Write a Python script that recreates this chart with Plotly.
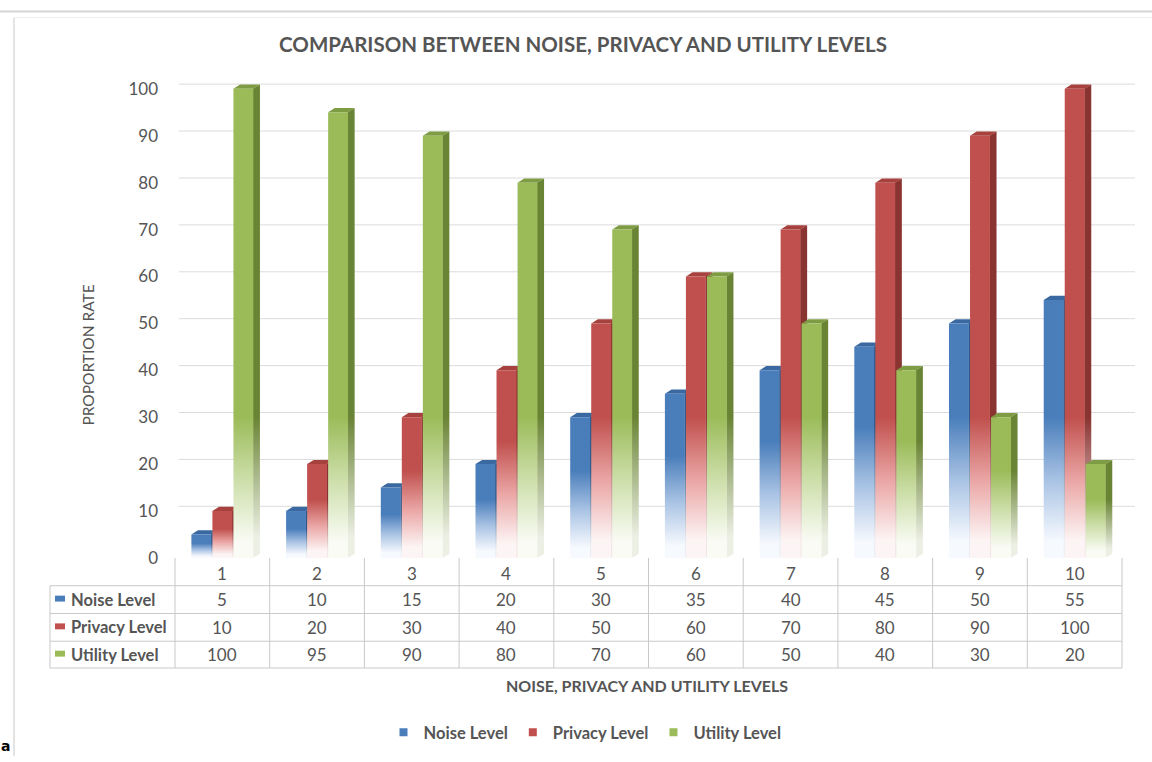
import plotly.graph_objects as go

# ---- data -------------------------------------------------------------
categories = [1, 2, 3, 4, 5, 6, 7, 8, 9, 10]
noise_level = [5, 10, 15, 20, 30, 35, 40, 45, 50, 55]
privacy_level = [10, 20, 30, 40, 50, 60, 70, 80, 90, 100]
utility_level = [100, 95, 90, 80, 70, 60, 50, 40, 30, 20]
series_names = ["Noise Level", "Privacy Level", "Utility Level"]
y_ticks = [0, 10, 20, 30, 40, 50, 60, 70, 80, 90, 100]

series_values = [noise_level, privacy_level, utility_level]

# ---- styling ------------------------------------------------------------
FONT = "Lato"
TEXT = "#555555"
GRID = "#dcdcdc"
TABLE_LINE = "#c9c9c9"

styles = [
    dict(front="#4A7EBB", side="#2E5786", top="#3A68A0", pale_f="#F6F9FE", mid_f="#A9C3E4",
         pale_s="#E9EDF3"),
    dict(front="#C0504D", side="#8A3431", top="#A6413E", pale_f="#FDF5F5", mid_f="#EAA6A5",
         pale_s="#F2E6E6"),
    dict(front="#9BBB59", side="#6A8435", top="#7E9C44", pale_f="#F9FBF4", mid_f="#CDDFAA",
         pale_s="#ECEFE4"),
]

# ---- geometry -----------------------------------------------------------
W, H = 1152, 762
ML, MR, MT, MB = 175, 17, 70, 86
PLOT_W = W - ML - MR
PLOT_H = H - MT - MB
X_RANGE = [0.5, 10.637]
PX_PER_Y = 4.73          # pixels per value unit on the vertical axis
Y0_PX = 562              # pixel row of value 0
Y_RANGE = [-(H - MB - Y0_PX) / PX_PER_Y, (Y0_PX - MT) / PX_PER_Y]

BAR_W = 0.21             # front face width (category units)
BAR_STEP = 0.222         # spacing between series inside a category
DEPTH_X = 0.07           # oblique depth of each column
DEPTH_Y = 0.9
GRID_LIFT = 1.0          # back wall sits slightly above the front plane
FADE_TOP = 30            # the white fade reaches at most this high


def xp(v):
    """data x -> paper x"""
    return (v - X_RANGE[0]) / (X_RANGE[1] - X_RANGE[0])


def px_x(px):
    return (px - ML) / PLOT_W


def px_y(py):
    return (H - MB - py) / PLOT_H


def front_scale(st, v):
    solid = min(0.62 * v, FADE_TOP) / v
    return [[0, st["pale_f"]], [solid * 0.12, st["pale_f"]],
            [solid * 0.55, st["mid_f"]], [solid, st["front"]], [1, st["front"]]]


def side_scale(st, v):
    solid = min(0.62 * v, FADE_TOP) / (v + DEPTH_Y)
    return [[0, st["pale_s"]], [solid * 0.15, st["pale_s"]],
            [solid, st["side"]], [1, st["side"]]]


fig = go.Figure()

# ---- 3-D style columns ----------------------------------------------------
for ci, cat in enumerate(categories):
    for si, (name, vals) in enumerate(zip(series_names, series_values)):
        v = vals[ci]
        st = styles[si]
        x0 = cat + (si - 1) * BAR_STEP - BAR_W / 2
        x1 = x0 + BAR_W
        # side face
        fig.add_trace(go.Scatter(
            x=[x1 - 0.004, x1 + DEPTH_X, x1 + DEPTH_X, x1 - 0.004, x1 - 0.004],
            y=[0, DEPTH_Y, v + DEPTH_Y, v, 0],
            mode="lines", fill="toself", line=dict(width=0),
            fillgradient=dict(type="vertical", start=0, stop=v + DEPTH_Y,
                              colorscale=side_scale(st, v)),
            hoverinfo="skip", showlegend=False))
        # top face
        fig.add_trace(go.Scatter(
            x=[x0, x1, x1 + DEPTH_X, x0 + DEPTH_X, x0],
            y=[v, v, v + DEPTH_Y, v + DEPTH_Y, v],
            mode="lines", fill="toself", line=dict(width=0),
            fillcolor=st["top"], hoverinfo="skip", showlegend=False))
        # front face
        fig.add_trace(go.Scatter(
            x=[x0, x1, x1, x0, x0],
            y=[0, 0, v, v, 0],
            mode="lines", fill="toself", line=dict(width=0),
            fillgradient=dict(type="vertical", start=0, stop=v,
                              colorscale=front_scale(st, v)),
            name=name, hovertemplate=f"{name}: {v}<extra></extra>",
            showlegend=False))

# legend entries
for name, st in zip(series_names, styles):
    fig.add_trace(go.Scatter(
        x=[None], y=[None], mode="markers", name=name,
        marker=dict(symbol="square", size=8, color=st["front"])))

shapes = []

# back-wall gridlines
for t in y_ticks[1:]:
    shapes.append(dict(type="line", xref="paper", yref="y", x0=0.004, x1=1,
                       y0=t + GRID_LIFT, y1=t + GRID_LIFT,
                       line=dict(color=GRID, width=1), layer="below"))

# ---- data table -----------------------------------------------------------
ROW_LINES_PX = [590, 618, 646, 673]
LABEL_LEFT_PX = 50
for py in ROW_LINES_PX:
    shapes.append(dict(type="line", xref="paper", yref="paper",
                       x0=px_x(LABEL_LEFT_PX), x1=xp(10.5), y0=px_y(py), y1=px_y(py),
                       line=dict(color=TABLE_LINE, width=1)))
for k in range(len(categories) + 1):
    xv = xp(0.5 + k)
    shapes.append(dict(type="line", xref="paper", yref="paper",
                       x0=xv, x1=xv, y0=px_y(Y0_PX), y1=px_y(ROW_LINES_PX[-1]),
                       line=dict(color=TABLE_LINE, width=1)))
shapes.append(dict(type="line", xref="paper", yref="paper",
                   x0=px_x(LABEL_LEFT_PX), x1=px_x(LABEL_LEFT_PX),
                   y0=px_y(ROW_LINES_PX[0]), y1=px_y(ROW_LINES_PX[-1]),
                   line=dict(color=TABLE_LINE, width=1)))

annotations = []
header_y = px_y(578)
for cat in categories:
    annotations.append(dict(x=cat, y=header_y, xref="x", yref="paper", text=str(cat),
                            showarrow=False, xanchor="center", yanchor="middle",
                            font=dict(family=FONT, size=17, color=TEXT)))

for ri, (name, vals, st) in enumerate(zip(series_names, series_values, styles)):
    top_px, bot_px = ROW_LINES_PX[ri], ROW_LINES_PX[ri + 1]
    cy_px = (top_px + bot_px) / 2
    cy = px_y(cy_px)
    # colour key square
    shapes.append(dict(type="rect", xref="paper", yref="paper",
                       x0=px_x(55), x1=px_x(65),
                       y0=px_y(cy_px - 1 + 3), y1=px_y(cy_px - 1 - 3),
                       fillcolor=st["front"], line=dict(width=0)))
    annotations.append(dict(x=px_x(69), y=cy, xref="paper", yref="paper",
                            text=f"<b>{name}</b>", showarrow=False,
                            xanchor="left", yanchor="middle",
                            font=dict(family=FONT, size=16.5, color=TEXT)))
    for cat, v in zip(categories, vals):
        annotations.append(dict(x=cat, y=cy, xref="x", yref="paper", text=str(v),
                                showarrow=False, xanchor="center", yanchor="middle",
                                font=dict(family=FONT, size=17, color=TEXT)))

# axis titles
annotations.append(dict(x=px_x(88), y=px_y(358), xref="paper", yref="paper",
                        text="PROPORTION RATE", textangle=-90, showarrow=False,
                        xanchor="center", yanchor="middle",
                        font=dict(family=FONT, size=15.5, color=TEXT)))
annotations.append(dict(x=px_x(647), y=px_y(691), xref="paper", yref="paper",
                        text="<b>NOISE, PRIVACY AND UTILITY LEVELS</b>", showarrow=False,
                        xanchor="center", yanchor="middle",
                        font=dict(family=FONT, size=16, color=TEXT)))

# page frame
shapes.append(dict(type="line", xref="paper", yref="paper",
                   x0=px_x(0), x1=px_x(W), y0=px_y(11), y1=px_y(11),
                   line=dict(color="#d4d4d4", width=2)))
shapes.append(dict(type="line", xref="paper", yref="paper",
                   x0=px_x(14), x1=px_x(14), y0=px_y(17), y1=px_y(H),
                   line=dict(color="#e4e4e4", width=2)))
shapes.append(dict(type="line", xref="paper", yref="paper",
                   x0=px_x(14), x1=px_x(W), y0=px_y(17), y1=px_y(17),
                   line=dict(color="#efefef", width=1)))

# panel letter in the lower-left corner
annotations.append(dict(x=px_x(0), y=px_y(752), xref="paper", yref="paper",
                        text="<b>a</b>", showarrow=False, xanchor="left", yanchor="middle",
                        borderpad=0,
                        font=dict(family="DejaVu Sans", size=14, color="#000000")))

fig.update_layout(
    width=W, height=H,
    margin=dict(l=ML, r=MR, t=MT, b=MB),
    paper_bgcolor="white", plot_bgcolor="white",
    title=dict(text="<b>COMPARISON BETWEEN NOISE, PRIVACY AND UTILITY LEVELS</b>",
               x=583 / W, y=1 - 45 / H, xref="container", yref="container",
               xanchor="center", yanchor="middle",
               font=dict(family=FONT, size=20.5, color=TEXT)),
    xaxis=dict(range=X_RANGE, showgrid=False, zeroline=False, showline=False,
               showticklabels=False, ticks=""),
    yaxis=dict(range=Y_RANGE, tickvals=y_ticks, showgrid=False, zeroline=False,
               showline=False, ticks="", ticklabelstandoff=16,
               tickfont=dict(family=FONT, size=17, color=TEXT)),
    legend=dict(orientation="h", x=px_x(585), y=px_y(738), xanchor="center",
                yanchor="middle", font=dict(family=FONT, size=16.5, color=TEXT,
                                             weight="bold"),
                itemwidth=30, bgcolor="rgba(0,0,0,0)"),
    shapes=shapes,
    annotations=annotations,
    font=dict(family=FONT, color=TEXT),
)

fig.write_html("out.html")
